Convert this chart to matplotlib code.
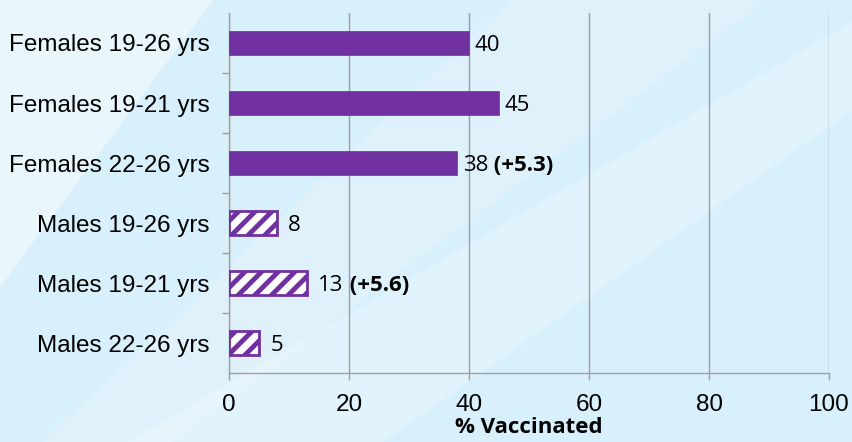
import numpy as np
import matplotlib.pyplot as plt
from matplotlib.patches import Polygon

categories = ["Females 19-26 yrs", "Females 19-21 yrs", "Females 22-26 yrs",
              "Males 19-26 yrs", "Males 19-21 yrs", "Males 22-26 yrs"]
values = [40, 45, 38, 8, 13, 5]
changes = [None, None, "(+5.3)", None, "(+5.6)", None]
hatched = [False, False, False, True, True, True]

purple = "#7030a0"
grid_col = "#a0a0a0"

plt.rcParams["hatch.linewidth"] = 3.5
plt.rcParams["hatch.color"] = purple

fig = plt.figure(figsize=(8.52, 4.42), dpi=100)
fig.patch.set_facecolor("#d8f0fb")
# soft diagonal light bands in the background
for pts, a in [([(0, 0.35), (0, 1), (0.25, 1)], 0.45),
               ([(0.15, 0), (0.45, 0), (1, 0.75), (1, 0.95)], 0.25),
               ([(0.6, 1), (0.9, 1), (0.2, 0), (0.05, 0)], 0.18)]:
    fig.patches.append(Polygon(pts, closed=True, transform=fig.transFigure,
                               facecolor="white", edgecolor="none", alpha=a, zorder=-10))

ax = fig.add_axes([0.2688, 0.156, 0.7042, 0.8146])
ax.set_zorder(5)
ax.set_facecolor("none")

y = np.arange(len(categories))
for i in range(len(categories)):
    if hatched[i]:
        ax.barh(y[i], values[i], height=0.4, color="white", edgecolor=purple,
                hatch="//", linewidth=2, zorder=3)
    else:
        ax.barh(y[i], values[i], height=0.4, color=purple, edgecolor=purple,
                linewidth=0.5, zorder=3)

for i in range(len(categories)):
    off = 8 if hatched[i] else 4
    t = ax.annotate(str(values[i]), xy=(values[i], y[i]), xytext=(off, -2),
                    textcoords="offset points", va="center", ha="left",
                    fontsize=16, family="Open Sans", color="black", zorder=4)
    if changes[i]:
        ax.annotate(" " + changes[i], xy=(1, 0), xycoords=t, va="bottom", ha="left",
                    fontsize=16, family="Open Sans", fontweight="bold", color="black")

ax.set_xlim(0, 100)
ax.set_ylim(len(categories) - 0.5, -0.5)
ax.set_xticks([0, 20, 40, 60, 80, 100])
ax.set_yticks(y)
ax.set_yticklabels(categories, fontsize=17.5, family="Liberation Sans")
ax.set_yticks(np.arange(0.5, len(categories) - 1, 1), minor=True)
for lab in ax.get_xticklabels():
    lab.set_fontsize(17.5)
    lab.set_family("Liberation Sans")
ax.tick_params(axis="y", which="major", length=0, pad=14)
ax.tick_params(axis="y", which="minor", length=5, color=grid_col, width=1)
ax.tick_params(axis="x", length=5, color=grid_col, width=1, pad=10)

ax.grid(axis="x", color=grid_col, linewidth=1, zorder=0)
ax.set_axisbelow(True)
for s in ["top", "right"]:
    ax.spines[s].set_visible(False)
for s in ["left", "bottom"]:
    ax.spines[s].set_color(grid_col)
    ax.spines[s].set_linewidth(1)

ax.set_xlabel("% Vaccinated", fontsize=16, family="Open Sans", fontweight="bold", labelpad=1)

fig.savefig("out.png", dpi=100, facecolor=fig.get_facecolor())
